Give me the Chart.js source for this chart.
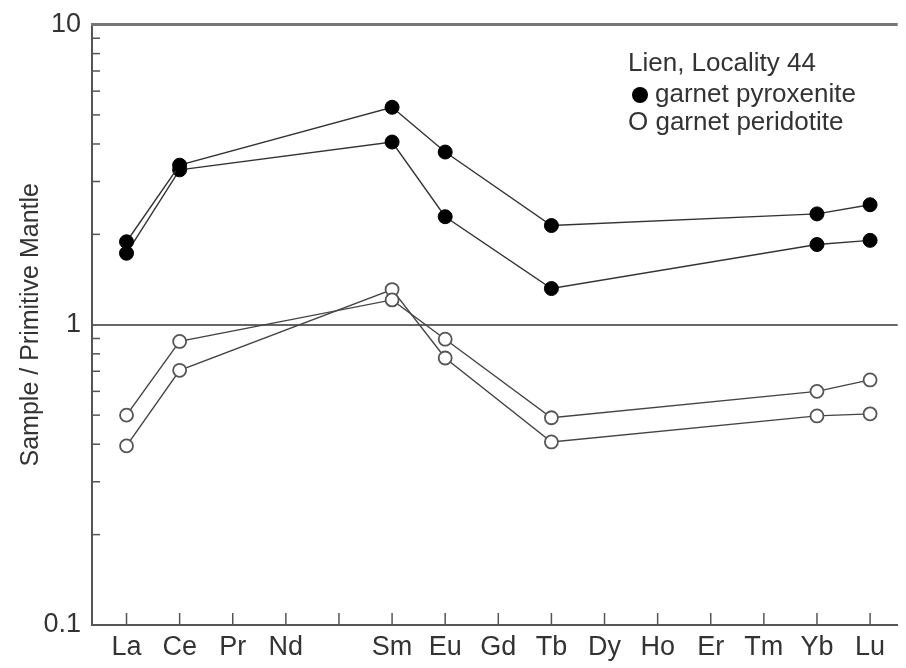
<!DOCTYPE html>
<html>
<head>
<meta charset="utf-8">
<script src="https://cdn.jsdelivr.net/npm/chart.js@4/dist/chart.umd.min.js"></script>
<style>
  body { margin: 0; background: #fff; }
  #wrap { width: 906px; height: 668px; }
</style>
</head>
<body>
<div id="wrap"><canvas id="reeChart"></canvas></div>
<script>
// REE order, Pm left blank
const elements = ['La', 'Ce', 'Pr', 'Nd', '', 'Sm', 'Eu', 'Gd', 'Tb', 'Dy', 'Ho', 'Er', 'Tm', 'Yb', 'Lu'];
const yTicks = [0.1, 1, 10];

// garnet pyroxenite (filled)
const pyroxeniteA = [1.89, 3.40, null, null, null, 5.30, 3.76, null, 2.14, null, null, null, null, 2.34, 2.51];
const pyroxeniteB = [1.73, 3.28, null, null, null, 4.06, 2.29, null, 1.32, null, null, null, null, 1.85, 1.91];
// garnet peridotite (open)
const peridotiteA = [0.50, 0.88, null, null, null, 1.21, 0.895, null, 0.49, null, null, null, null, 0.60, 0.655];
const peridotiteB = [0.395, 0.705, null, null, null, 1.31, 0.775, null, 0.407, null, null, null, null, 0.497, 0.505];

function toPoints(values) {
    return values.map((v, i) => ({ x: i, y: v })).filter(p => p.y !== null);
}

function filledSet(values) {
    return {
        data: toPoints(values),
        borderColor: '#333',
        borderWidth: 1.4,
        pointRadius: 7,
        pointBackgroundColor: '#000',
        pointBorderColor: '#000',
        pointBorderWidth: 1
    };
}

function openSet(values) {
    return {
        data: toPoints(values),
        borderColor: '#444',
        borderWidth: 1.4,
        pointRadius: 6.5,
        pointBackgroundColor: '#fff',
        pointBorderColor: '#555',
        pointBorderWidth: 1.8
    };
}

// inward ticks, top frame and the text legend
const framePlugin = {
    id: 'frame',
    afterDraw(chart) {
        const ctx = chart.ctx;
        const area = chart.chartArea;
        const xs = chart.scales.x;
        const ys = chart.scales.y;
        ctx.save();
        ctx.strokeStyle = '#555';
        ctx.lineWidth = 1.5;
        elements.forEach((e, i) => {
            const px = xs.getPixelForValue(i);
            ctx.beginPath();
            ctx.moveTo(px, area.bottom);
            ctx.lineTo(px, area.bottom - 12);
            ctx.stroke();
        });
        [0.1, 1].forEach(base => {
            for (let k = 2; k <= 9; k++) {
                const py = ys.getPixelForValue(base * k);
                ctx.beginPath();
                ctx.moveTo(area.left, py);
                ctx.lineTo(area.left + 8, py);
                ctx.stroke();
            }
        });
        ctx.strokeStyle = '#777';
        ctx.lineWidth = 3;
        ctx.beginPath();
        ctx.moveTo(area.left - 1, area.top);
        ctx.lineTo(area.right, area.top);
        ctx.stroke();

        ctx.fillStyle = '#333';
        ctx.font = '26px "Liberation Sans", Arial, sans-serif';
        ctx.textBaseline = 'middle';
        ctx.textAlign = 'left';
        ctx.fillText('Lien, Locality 44', 628, 64);
        ctx.fillText('garnet pyroxenite', 655, 95);
        ctx.fillText('O garnet peridotite', 628, 123);
        ctx.fillStyle = '#000';
        ctx.beginPath();
        ctx.arc(640, 95, 8, 0, Math.PI * 2);
        ctx.fill();
        ctx.restore();
    }
};

const ctx = document.getElementById('reeChart').getContext('2d');
new Chart(ctx, {
    type: 'line',
    data: {
        datasets: [filledSet(pyroxeniteA), filledSet(pyroxeniteB), openSet(peridotiteA), openSet(peridotiteB)]
    },
    options: {
        responsive: true,
        maintainAspectRatio: false,
        animation: false,
        layout: { padding: { top: 22, right: 0, left: 0, bottom: 0 } },
        plugins: {
            legend: { display: false },
            tooltip: { enabled: false }
        },
        scales: {
            x: {
                type: 'linear',
                min: -0.65,
                max: 14.52,
                afterBuildTicks: scale => { scale.ticks = elements.map((e, i) => ({ value: i })); },
                afterFit: scale => { scale.height = 43; },
                grid: { display: false },
                border: { color: '#555', width: 2 },
                ticks: {
                    padding: -2,
                    color: '#333',
                    font: { family: '"Liberation Sans", Arial, sans-serif', size: 27 },
                    callback: v => elements[v]
                }
            },
            y: {
                type: 'logarithmic',
                min: 0.1,
                max: 10,
                afterBuildTicks: scale => { scale.ticks = yTicks.map(v => ({ value: v })); },
                afterFit: scale => { scale.width = 92; },
                grid: {
                    drawTicks: false,
                    color: c => (c.tick && c.tick.value === 1 ? '#666' : 'rgba(0,0,0,0)'),
                    lineWidth: 2
                },
                border: { color: '#555', width: 2 },
                ticks: {
                    padding: 11,
                    color: '#333',
                    font: { family: '"Liberation Sans", Arial, sans-serif', size: 27, lineHeight: 1 },
                    callback: v => String(v)
                },
                title: {
                    display: true,
                    text: 'Sample / Primitive Mantle',
                    color: '#333',
                    font: { family: '"Liberation Sans", Arial, sans-serif', size: 25 },
                    padding: { top: 16, bottom: 0 }
                }
            }
        }
    },
    plugins: [framePlugin]
});
</script>
</body>
</html>
